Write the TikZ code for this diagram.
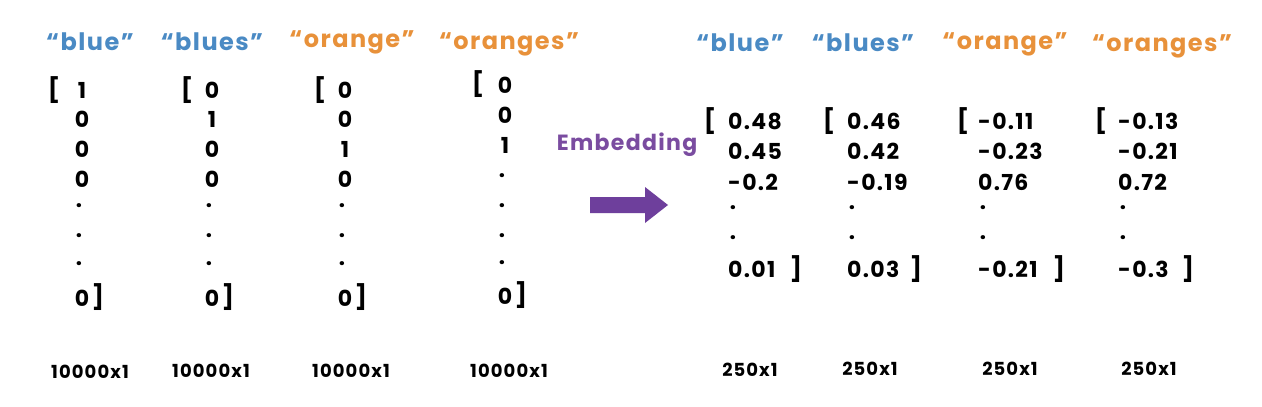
\documentclass[tikz,border=0pt]{standalone}
\usepackage{fontspec}
\setmainfont{Poppins}[LetterSpace=6]
\definecolor{wblue}{HTML}{4A8AC4}
\definecolor{worange}{HTML}{E8913A}
\definecolor{wpurple}{HTML}{7A4CA0}
\definecolor{apurple}{HTML}{6E3F9C}
\begin{document}
\begin{tikzpicture}[x=1pt,y=-1pt,
  hdr/.style={font=\bfseries\fontsize{24}{26}\selectfont, anchor=center, inner sep=0pt},
  ent/.style={font=\bfseries\fontsize{22}{24}\selectfont, anchor=center, inner sep=0pt},
  rent/.style={font=\bfseries\fontsize{22}{24}\selectfont, anchor=west, inner sep=0pt},
  br/.style={font=\bfseries\fontsize{24}{26}\selectfont, anchor=center, inner sep=0pt},
  dimlab/.style={font=\bfseries\fontsize{18}{20}\selectfont, anchor=center, inner sep=0pt}]
\fill[white] (0,0) rectangle (1262,407);
\useasboundingbox (0,0) rectangle (1262,407);
% left headers
\node[hdr, text=wblue]   (h1) at (90,42)  {“blue”};
\node[hdr, text=wblue]   (h2) at (212,42) {“blues”};
\node[hdr, text=worange] (h3) at (352,42) {“orange”};
\node[hdr, text=worange] (h4) at (509,44) {“oranges”};
% left one-hot vectors 1-3
\foreach \c/\bx/\ex/\va/\vb/\vc/\vd in {1/54/82/1/0/0/0, 2/187/212/0/1/0/0, 3/320/345/0/0/1/0} {
  \node[br]  (lb\c) at (\bx,90) {[};
  \node[ent] (l\c a) at (\ex,90)  {\va};
  \node[ent] (l\c b) at (\ex,119) {\vb};
  \node[ent] (l\c c) at (\ex,149) {\vc};
  \node[ent] (l\c d) at (\ex,179) {\vd};
  \node[ent] (l\c e) at (\ex-3,206) {.};
  \node[ent] (l\c f) at (\ex-3,236) {.};
  \node[ent] (l\c g) at (\ex-3,264) {.};
  \node[ent] (l\c h) at (\ex,298) {0};
  \node[br]  (le\c) at (\ex+16,297) {]};
}
% left vector 4
\node[br]  (lb4) at (478,84) {[};
\node[ent] (l4a) at (505,85)  {0};
\node[ent] (l4b) at (505,115) {0};
\node[ent] (l4c) at (505,145) {1};
\node[ent] (l4d) at (502,176) {.};
\node[ent] (l4e) at (502,206) {.};
\node[ent] (l4f) at (502,236) {.};
\node[ent] (l4g) at (502,263) {.};
\node[ent] (l4h) at (505,296) {0};
\node[br]  (le4) at (521,295) {]};
% left dims
\node[dimlab] (d1) at (90,372)  {10000x1};
\node[dimlab] (d2) at (211,371) {10000x1};
\node[dimlab] (d3) at (351,371) {10000x1};
\node[dimlab] (d4) at (509,371) {10000x1};
% embedding
\node[font=\bfseries\fontsize{22}{24}\selectfont, text=wpurple, inner sep=0pt] (emb) at (627,145) {Embedding};
\fill[apurple] (590,197) -- (645,197) -- (645,187) -- (668,205) -- (645,223) -- (645,213) -- (590,213) -- cycle;
% right headers
\node[hdr, text=wblue]   (g1) at (740,43)  {“blue”};
\node[hdr, text=wblue]   (g2) at (863,43)  {“blues”};
\node[hdr, text=worange] (g3) at (1005,44) {“orange”};
\node[hdr, text=worange] (g4) at (1162,46) {“oranges”};
% right embedding vectors
\foreach \c/\bx/\ex/\cx/\va/\vb/\vc/\vd in {
  1/710/728/796/0.48/0.45/{-0.2}/0.01,
  2/829/847/916/0.46/0.42/{-0.19}/0.03,
  3/963/978/1059/{-0.11}/{-0.23}/0.76/{-0.21},
  4/1101/1118/1188/{-0.13}/{-0.21}/0.72/{-0.3}} {
  \node[br]   (rb\c) at (\bx,121) {[};
  \node[rent] (r\c a) at (\ex,121) {\va};
  \node[rent] (r\c b) at (\ex,151) {\vb};
  \node[rent] (r\c c) at (\ex,182) {\vc};
  \node[ent]  (r\c d) at (\ex+5,208) {.};
  \node[ent]  (r\c e) at (\ex+5,238) {.};
  \node[rent] (r\c f) at (\ex,269) {\vd};
  \node[br]   (re\c) at (\cx,269) {]};
}
% right dims
\node[dimlab] (e1) at (750,370)  {250x1};
\node[dimlab] (e2) at (870,369)  {250x1};
\node[dimlab] (e3) at (1010,369) {250x1};
\node[dimlab] (e4) at (1149,369) {250x1};
\end{tikzpicture}
\end{document}
